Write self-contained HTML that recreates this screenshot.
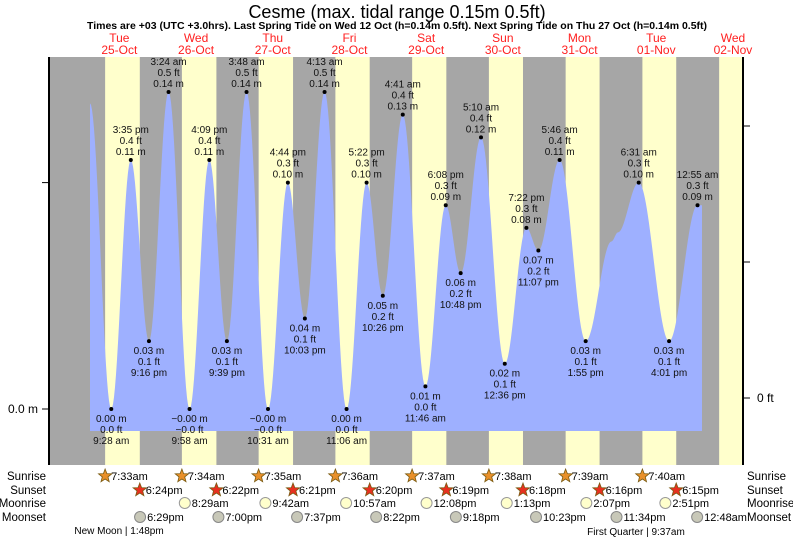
<!DOCTYPE html>
<html><head><meta charset="utf-8"><style>
body{margin:0;background:#fff;}
svg{display:block;font-family:"Liberation Sans",sans-serif;}
</style></head><body>
<svg id="c" width="793" height="539" viewBox="0 0 793 539">
<text x="397" y="18" font-size="18" text-anchor="middle">Cesme (max. tidal range 0.15m 0.5ft)</text>
<text x="397" y="29" font-size="10.5" font-weight="bold" text-anchor="middle">Times are +03 (UTC +3.0hrs). Last Spring Tide on Wed 12 Oct (h=0.14m 0.5ft). Next Spring Tide on Thu 27 Oct (h=0.14m 0.5ft)</text>
<g id="bands"></g><g id="tide"></g><g id="labels"></g><g id="axes"></g><g id="bottom"></g>
</svg>
<script>
const dayNames=["Tue","Wed","Thu","Fri","Sat","Sun","Mon","Tue","Wed"];
const dayDates=["25-Oct","26-Oct","27-Oct","28-Oct","29-Oct","30-Oct","31-Oct","01-Nov","02-Nov"];
const sunrise=["7:33am","7:34am","7:35am","7:36am","7:37am","7:38am","7:39am","7:40am","7:41am"];
const sunset=["6:24pm","6:22pm","6:21pm","6:20pm","6:19pm","6:18pm","6:16pm","6:15pm","6:14pm"];
const moonriseDay=[1,2,3,4,5,6,7];
const moonrise=["8:29am","9:42am","10:57am","12:08pm","1:13pm","2:07pm","2:51pm"];
const moonsetDay=[0,1,2,3,4,5,6,8];
const moonset=["6:29pm","7:00pm","7:37pm","8:22pm","9:18pm","10:23pm","11:34pm","12:48am"];
const tideDay=[0,0,0,0,1,1,1,1,2,2,2,2,3,3,3,3,4,4,4,4,5,5,5,5,6,6,6,6,7,7,8];
const tideTime=["2:50am","9:28am","3:35pm","9:16pm","3:24am","9:58am","4:09pm","9:39pm","3:48am","10:31am","4:44pm","10:03pm","4:13am","11:06am","5:22pm","10:26pm","4:41am","11:46am","6:08pm","10:48pm","5:10am","12:36pm","7:22pm","11:07pm","5:46am","1:55pm","10:00pm","11:59pm","6:31am","4:01pm","12:55am"];
const tideH=[0.135,0.00,0.11,0.03,0.14,0.00,0.11,0.03,0.14,0.00,0.10,0.04,0.14,0.00,0.10,0.05,0.13,0.01,0.09,0.06,0.12,0.02,0.08,0.07,0.11,0.03,0.074,0.078,0.10,0.03,0.09];
const tideMLabel=["","0.00 m","0.11 m","0.03 m","0.14 m","\u22120.00 m","0.11 m","0.03 m","0.14 m","\u22120.00 m","0.10 m","0.04 m","0.14 m","0.00 m","0.10 m","0.05 m","0.13 m","0.01 m","0.09 m","0.06 m","0.12 m","0.02 m","0.08 m","0.07 m","0.11 m","0.03 m","","","0.10 m","0.03 m","0.09 m"];
const tideFtLabel=["","0.0 ft","0.4 ft","0.1 ft","0.5 ft","\u22120.0 ft","0.4 ft","0.1 ft","0.5 ft","\u22120.0 ft","0.3 ft","0.1 ft","0.5 ft","0.0 ft","0.3 ft","0.2 ft","0.4 ft","0.0 ft","0.3 ft","0.2 ft","0.4 ft","0.1 ft","0.3 ft","0.2 ft","0.4 ft","0.1 ft","","","0.3 ft","0.1 ft","0.3 ft"];
const tideTimeLabel=["","9:28 am","3:35 pm","9:16 pm","3:24 am","9:58 am","4:09 pm","9:39 pm","3:48 am","10:31 am","4:44 pm","10:03 pm","4:13 am","11:06 am","5:22 pm","10:26 pm","4:41 am","11:46 am","6:08 pm","10:48 pm","5:10 am","12:36 pm","7:22 pm","11:07 pm","5:46 am","1:55 pm","","","6:31 am","4:01 pm","12:55 am"];

const NS="http://www.w3.org/2000/svg";
const X0=81,PXD=76.7,Y0=409,PXM=2264,PL=49,PR=743,PT=57,PB=465,BB=431,TX0=90,TX1=702;
function hrs(s){const m=s.match(/(\d+):(\d+)(am|pm)/);let h=+m[1]%12;if(m[3]=="pm")h+=12;return h+(+m[2])/60;}
function xOf(d,s){return X0+(d+hrs(s)/24)*PXD;}
function yOf(h){return Y0-h*PXM;}
function mk(p,tag,a,txt){const e=document.createElementNS(NS,tag);for(const k in a)e.setAttribute(k,a[k]);if(txt!=null)e.textContent=txt;p.appendChild(e);return e;}
const bands=document.getElementById('bands');
let r=mk(bands,'rect',{x:PL,y:PT,width:PR-PL,height:PB-PT,fill:'#a6a6a6'});


for(let d=0;d<9;d++){
 const a=xOf(d,sunrise[d]),b=Math.min(xOf(d,sunset[d]),PR);
 if(a<PR){const e=mk(bands,'rect',{x:a,y:PT,width:b-a,height:PB-PT,fill:'#ffffcc'});
 
 }
 const cx=X0+(d+0.5)*PXD;
 const t1=mk(bands,'text',{x:cx,y:42,'font-size':12,fill:'#ff2020','text-anchor':'middle'},dayNames[d]);
 
 
 const t2=mk(bands,'text',{x:cx,y:54,'font-size':12,fill:'#ff2020','text-anchor':'middle'},dayDates[d]);
 
 
}
const tx=tideDay.map((d,i)=>xOf(d,tideTime[i]));
let pts=[];
for(let x=TX0;x<=TX1;x++){
 let i=0;while(i<tx.length-2&&tx[i+1]<x)i++;
 let f=(x-tx[i])/(tx[i+1]-tx[i]);f=Math.max(0,Math.min(1,f));
 const h=tideH[i]+(tideH[i+1]-tideH[i])*(1-Math.cos(Math.PI*f))/2;
 pts.push(x+','+yOf(h).toFixed(1));
}
const poly=mk(document.getElementById('tide'),'polygon',{points:TX0+','+BB+' '+pts.join(' ')+' '+TX1+','+BB,fill:'#9eb0ff'});


const lab=document.getElementById('labels');
for(let i=0;i<tx.length;i++){
 if(!tideMLabel[i])continue;
 const x=tx[i],y=yOf(tideH[i]);
 const isHigh=(i>0&&tideH[i]>tideH[i-1]);
 const dot=mk(lab,'circle',{cx:x,cy:y,r:2,fill:'#000'});
 
 
 const lines=isHigh?[tideTimeLabel[i],tideFtLabel[i],tideMLabel[i]]:[tideMLabel[i],tideFtLabel[i],tideTimeLabel[i]];
 const g=mk(lab,'g',{});
 
 
 lines.forEach((s,k)=>{
  const yy=isHigh?y-5-(2-k)*11:y+13+k*11;
  mk(g,'text',{x:x,y:yy,'font-size':10,'text-anchor':'middle',fill:'#111'},s);
 });
}
const ax=document.getElementById('axes');
mk(ax,'line',{x1:PL,y1:PT,x2:PL,y2:PB,stroke:'#000','stroke-width':2});
mk(ax,'line',{x1:PR,y1:PT,x2:PR,y2:PB,stroke:'#000','stroke-width':2});
mk(ax,'line',{x1:PL-7,y1:Y0,x2:PL,y2:Y0,stroke:'#000'});
mk(ax,'line',{x1:PL-7,y1:yOf(0.1),x2:PL,y2:yOf(0.1),stroke:'#000'});
const yl=mk(ax,'text',{x:PL-11,y:Y0+4,'font-size':12,'text-anchor':'end'},'0.0 m');


[398,262,126].forEach(y=>mk(ax,'line',{x1:PR,y1:y,x2:PR+7,y2:y,stroke:'#000'}));
const yr=mk(ax,'text',{x:PR+14,y:402,'font-size':12},'0 ft');


const bt=document.getElementById('bottom');
const rows=[["Sunrise",480],["Sunset",494],["Moonrise",507],["Moonset",521]];
rows.forEach(([n,y])=>{
 const a=mk(bt,'text',{x:46,y:y,'font-size':11.5,'text-anchor':'end'},n);
 
 
 const b=mk(bt,'text',{x:747,y:y,'font-size':11.5},n);
 
 
});
function star(x,y,fill){let p=[];for(let k=0;k<10;k++){const rr=k%2?3:7,a=-Math.PI/2+k*Math.PI/5;p.push((x+rr*Math.cos(a)).toFixed(1)+','+(y+rr*Math.sin(a)).toFixed(1));}
 return mk(bt,'polygon',{points:p.join(' '),fill:fill,stroke:'#7a5a10','stroke-width':0.8});}
for(let d=0;d<8;d++){
 const x=xOf(d,sunrise[d]);
 const s=star(x,476,'#e8902a');
 
 
 mk(bt,'text',{x:x+6,y:480,'font-size':11},sunrise[d]);
 const x2=xOf(d,sunset[d]);
 const s2=star(x2,490,'#e83020');
 
 
 mk(bt,'text',{x:x2+6,y:494,'font-size':11},sunset[d]);
}
moonrise.forEach((t,i)=>{
 const x=xOf(moonriseDay[i],t);
 const c=mk(bt,'circle',{cx:x,cy:503,r:5.5,fill:'#ffffcc',stroke:'#999'});
 
 
 mk(bt,'text',{x:x+7,y:507,'font-size':11},t);
});
moonset.forEach((t,i)=>{
 const x=xOf(moonsetDay[i],t);
 const c=mk(bt,'circle',{cx:x,cy:517,r:5.5,fill:'#c8c8b8',stroke:'#888'});
 
 
 mk(bt,'text',{x:x+7,y:521,'font-size':11},t);
});
const m1=mk(bt,'text',{x:119,y:534,'font-size':10,'text-anchor':'middle'},'New Moon | 1:48pm');


const m2=mk(bt,'text',{x:636,y:535,'font-size':10,'text-anchor':'middle'},'First Quarter | 9:37am');


</script>
</body></html>
